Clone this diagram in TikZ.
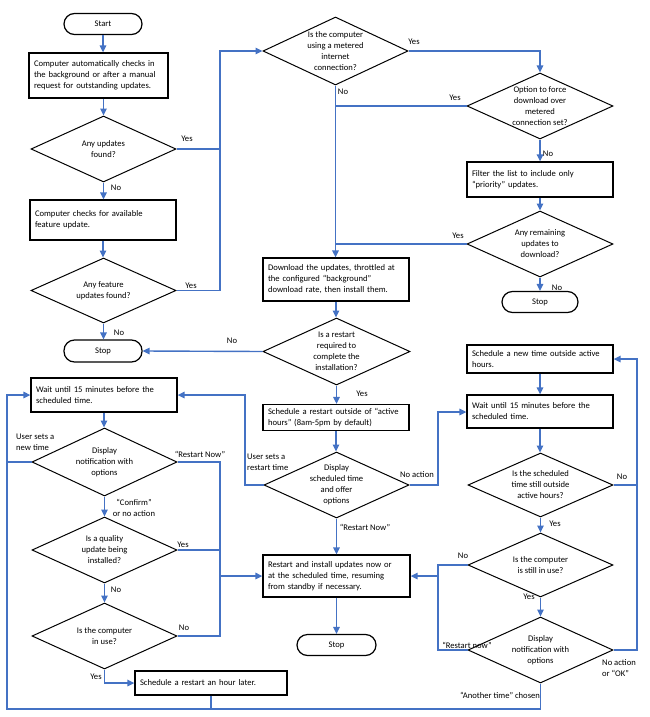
\documentclass[tikz,border=0pt]{standalone}
\usepackage{fontspec}
\setmainfont{Carlito}
\usetikzlibrary{shapes.geometric,arrows.meta}
\definecolor{lnblue}{RGB}{68,114,196}
\begin{document}
\begin{tikzpicture}[x=1pt,y=-1pt,
  every node/.style={font=\fontsize{8.6}{11}\selectfont},
  boxnode/.style={draw=black,line width=1.3pt,rectangle,align=left,inner xsep=5pt,inner ysep=0pt},
  term/.style={draw=black,line width=1.2pt,rectangle,rounded corners=10.5pt,minimum width=78pt,minimum height=21pt,inner sep=0pt},
  dia/.style={draw=black,line width=1pt,diamond,inner sep=0pt,minimum width=145pt,minimum height=66pt},
  dtext/.style={align=center,inner sep=0pt},
  lab/.style={inner sep=0pt,align=center},
  conn/.style={draw=lnblue,line width=1.4pt},
  arr/.style={conn,-{Triangle[length=7pt,width=6.5pt]}}
]
\useasboundingbox (0,0) rectangle (650,717);
% ---------- left upper column
\node[term] (start) at (103,24) {Start};
\node[boxnode,text width=129pt,minimum height=45pt] (b1) at (98.5,75.5) {Computer automatically checks in\\the background or after a manual\\request for outstanding updates.};
\node[dia,label={[dtext]center:{Any updates\\found?}}] (d1) at (103.5,149) {};
\node[boxnode,text width=136pt,minimum height=40pt] (b2) at (103,220) {Computer checks for available\\feature update.};
\node[dia,minimum height=65pt,label={[dtext]center:{Any feature\\updates found?}}] (d2) at (103.5,290.5) {};
\node[term,minimum height=22pt] (stop1) at (103,351) {Stop};
% ---------- middle column
\node[dia,minimum height=68pt,label={[dtext]center:{Is the computer\\using a metered\\internet\\connection?}}] (d3) at (335.5,51) {};
\node[boxnode,text width=136pt,minimum height=43pt] (dl) at (336,279.5) {Download the updates, throttled at\\the configured “background”\\download rate, then install them.};
\node[dia,minimum width=147pt,minimum height=67pt,label={[dtext]center:{Is a restart\\required to\\complete the\\installation?}}] (d6) at (336.5,351.5) {};
\node[boxnode,text width=136pt,minimum height=26pt] (sched) at (336,417.5) {Schedule a restart outside of “active\\hours” (8am-5pm by default)};
\node[dia,label={[dtext]center:{Display\\scheduled time\\and offer\\options}}] (d7) at (336.5,485) {};
\node[boxnode,text width=137pt,minimum height=42pt] (restart) at (336.5,576) {Restart and install updates now or\\at the scheduled time, resuming\\from standby if necessary.};
\node[term,minimum width=79pt] (stop3) at (336.5,645) {Stop};
% ---------- right upper column
\node[dia,minimum width=146pt,label={[dtext]center:{Option to force\\download over\\metered\\connection set?}}] (d4) at (540,106) {};
\node[boxnode,text width=136pt,minimum height=35pt] (filter) at (540,179.5) {Filter the list to include only\\“priority” updates.};
\node[dia,minimum width=146pt,label={[dtext]center:{Any remaining\\updates to\\download?}}] (d5) at (540,244) {};
\node[term,minimum width=76pt] (stop2) at (540,302) {Stop};
% ---------- right lower column
\node[boxnode,text width=136pt,minimum height=28pt] (newtime) at (540,359) {Schedule a new time outside active\\hours.};
\node[boxnode,text width=136pt,minimum height=33pt] (wait2) at (540,411.5) {Wait until 15 minutes before the\\scheduled time.};
\node[dia,minimum height=64pt,label={[dtext]center:{Is the scheduled\\time still outside\\active hours?}}] (d8) at (540.5,485) {};
\node[dia,minimum height=64pt,label={[dtext]center:{Is the computer\\is still in use?}}] (d9) at (540.5,565) {};
\node[dia,label={[dtext]center:{Display\\notification with\\options}}] (d10) at (540.5,650) {};
% ---------- left lower column
\node[boxnode,text width=136pt,minimum height=34pt] (wait1) at (104,395) {Wait until 15 minutes before the\\scheduled time.};
\node[dia,minimum height=68pt,label={[dtext]center:{Display\\notification with\\options}}] (d11) at (104.5,462) {};
\node[dia,label={[dtext]center:{Is a quality\\update being\\installed?}}] (d12) at (104.5,550) {};
\node[dia,label={[dtext]center:{Is the computer\\in use?}}] (d13) at (104.5,636) {};
\node[boxnode,text width=142pt,minimum height=24pt] (hour) at (211,683) {Schedule a restart an hour later.};
% ---------- junction coordinates
\coordinate (jA) at (220,51);
\coordinate (jR) at (438,576);
\coordinate (jL) at (220,576);
\coordinate (jUR) at (245,395);
\coordinate (jNA) at (438,412);
\coordinate (jNo8) at (637,359);
\coordinate (jBot) at (7,709);
\coordinate (jBotR) at (540.5,709);
% ---------- connectors
\draw[arr] (start.south) -- (start.south |- b1.north);
\draw[arr] (d1.north |- b1.south) -- (d1.north);
\draw[arr] (d1.south) -- (d1.south |- b2.north);
\draw[arr] (b2.south) -- (b2.south |- d2.north);
\draw[arr] (d2.south) -- (d2.south |- stop1.north);
\draw[conn] (d1.east) -- (d1.east -| jA);
\draw[arr] (d2.east) -| (jA) -- (d3.west);
\draw[arr] (d3.east) -| (d4.north);
\draw[arr] (d3.south) -- (d3.south |- dl.north);
\draw[conn] (d4.west) -- (d4.west -| d3.south);
\draw[arr] (d4.south) -- (d4.south |- filter.north);
\draw[arr] (filter.south) -- (filter.south |- d5.north);
\draw[conn] (d5.west) -- (d5.west -| d3.south);
\draw[arr] (d5.south) -- (d5.south |- stop2.north);
\draw[arr] (dl.south) -- (dl.south |- d6.north);
\draw[arr] (d6.west) -- (stop1.east);
\draw[arr] (d6.south) -- (d6.south |- sched.north);
\draw[arr] (sched.south) -- (sched.south |- d7.north);
\draw[arr] (d7.west) -| (jUR) -- (wait1.east |- jUR);
\draw[arr] (d7.east) -| (jNA) -- (wait2.west |- jNA);
\draw[arr] (d7.south) -- (d7.south |- restart.north);
\draw[arr] (restart.south) -- (restart.south |- stop3.north);
\draw[arr] (newtime.south) -- (newtime.south |- wait2.north);
\draw[arr] (wait2.south) -- (wait2.south |- d8.north);
\draw[arr] (d8.east) -| (jNo8) -- (newtime.east);
\draw[arr] (d8.south) -- (d9.north);
\draw[arr] (d9.west) -| (jR) -- (restart.east |- jR);
\draw[conn] (d10.west) -| (jR);
\draw[arr] (d9.south) -- (d10.north);
\draw[conn] (d10.east) -| (jNo8 |- d8.east);
\draw[arr] (d10.south) -- (jBotR) -- (jBot) |- (wait1.west);
\draw[arr] (wait1.south) -- (wait1.south |- d11.north);
\draw[conn] (d11.west) -- (d11.west -| jBot);
\draw[arr] (d11.east) -| (jL) -- (restart.west |- jL);
\draw[conn] (d12.east) -- (d12.east -| jL);
\draw[conn] (d13.east) -| (jL);
\draw[arr] (d11.south) -- (d11.south |- d12.north);
\draw[arr] (d12.south) -- (d12.south |- d13.north);
\draw[arr] (d13.south) |- (hour.west);
\draw[conn,line width=1.1pt] (hour.south) -- (hour.south |- jBot);
% ---------- labels
\node[lab] (lY1) at (187,139) {Yes};
\node[lab] (lN1) at (116,188) {No};
\node[lab] (lY2) at (191,286) {Yes};
\node[lab] (lN2) at (119,333) {No};
\node[lab] (lY3) at (414,42) {Yes};
\node[lab] (lN3) at (343,92) {No};
\node[lab] (lY4) at (455,98) {Yes};
\node[lab] (lN4) at (548,154) {No};
\node[lab] (lY5) at (458,236) {Yes};
\node[lab] (lN5) at (557,288) {No};
\node[lab] (lN6) at (232,341) {No};
\node[lab] (lY6) at (362,394) {Yes};
\node[lab,align=left,anchor=west] (lUR) at (247,462.5) {User sets a\\restart time};
\node[lab] (lNA) at (417,475) {No action};
\node[lab] (lRN) at (365,527) {“Restart Now”};
\node[lab,align=left,anchor=west] (lUN) at (16,442) {User sets a\\new time};
\node[lab] (lRN2) at (200,454) {“Restart Now”};
\node[lab] (lCf) at (134,507.5) {“Confirm”\\or no action};
\node[lab] (lY12) at (183,545) {Yes};
\node[lab] (lN12) at (116,590) {No};
\node[lab] (lN13) at (184,628) {No};
\node[lab] (lY13) at (96,677) {Yes};
\node[lab] (lN8) at (622,477) {No};
\node[lab] (lY8) at (555,524) {Yes};
\node[lab] (lN9) at (463,556) {No};
\node[lab] (lY9) at (529,597) {Yes};
\node[lab] (lRn) at (467,645) {“Restart now”};
\node[lab,align=left,anchor=west] (lNO) at (602,668) {No action\\or “OK”};
\node[lab] (lAT) at (500,695) {“Another time” chosen};
\end{tikzpicture}
\end{document}
